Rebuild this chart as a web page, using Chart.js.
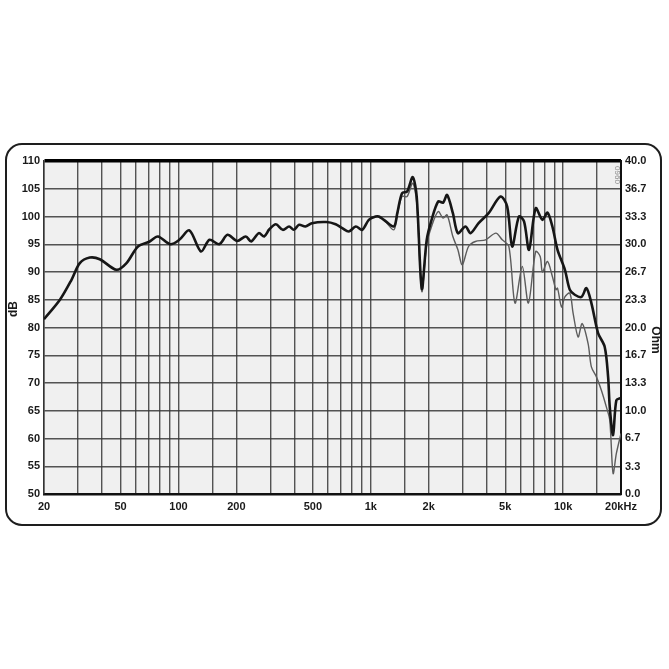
<!DOCTYPE html>
<html>
<head>
<meta charset="utf-8">
<script src="https://cdn.jsdelivr.net/npm/chart.js@4.4.0/dist/chart.umd.min.js"></script>
<style>
  body { margin: 0; background: #fff; }
  canvas { display: block; }
</style>
</head>
<body>
<canvas id="myChart" width="669" height="669"></canvas>
<script>
// frequency response
var blackFreq = [20, 24.2, 27.8, 30.7, 34.6, 39, 47.6, 53.7, 61.6, 70.9,
                 78.2, 90.6, 101, 114, 131, 145, 163, 180, 202, 224,
                 239, 262, 279, 297, 321, 349, 376, 398, 424, 457,
                 494, 587, 657, 711, 769, 836, 903, 977, 1060, 1101,
                 1170, 1318, 1374, 1454, 1545, 1652, 1733, 1842, 1954, 2071,
                 2241, 2378, 2493, 2672, 2838, 3108, 3300, 3636, 4100, 4726,
                 5120, 5436, 5893, 6263, 6650, 7203, 7807, 8293, 8795, 9353,
                 10216, 10840, 11500, 12460, 13220, 14030, 15200, 16460, 17140, 17480,
                 18190, 18920, 20000];
var blackDb   = [81.5, 85.0, 88.6, 91.6, 92.6, 92.3, 90.4, 91.6, 94.6, 95.5,
                 96.4, 95.0, 95.8, 97.5, 93.7, 95.8, 95.0, 96.7, 95.6, 96.4,
                 95.5, 97.0, 96.4, 97.7, 98.6, 97.6, 98.2, 97.6, 98.5, 98.2,
                 98.8, 99.0, 98.6, 97.9, 97.3, 98.2, 97.6, 99.4, 100.0, 100.0,
                 99.4, 98.2, 100.6, 104.2, 104.5, 107.1, 103.6, 87.0, 95.8, 99.4,
                 102.7, 102.5, 103.9, 100.6, 97.0, 98.2, 97.0, 98.8, 100.6, 103.6,
                 101.8, 94.6, 100.0, 99.1, 94.0, 101.5, 99.4, 100.7, 98.2, 94.0,
                 90.4, 86.8, 85.9, 85.5, 87.1, 84.4, 79.0, 76.5, 71.1, 65.7,
                 60.6, 66.9, 67.3];

var grayFreq = [1060, 1101, 1170, 1318, 1374, 1454, 1545, 1652, 1733, 1842,
                1954, 2071, 2241, 2378, 2493, 2672, 2838, 2990, 3223, 3497,
                3953, 4472, 4825, 5223, 5623, 6135, 6600, 7203, 7600, 7807,
                8293, 8795, 9184, 9353, 9820, 10216, 10840, 11270, 11970, 12560,
                13490, 14030, 14900, 15810, 16780, 17480, 18190, 18920, 20000];
var grayDb   = [100.0, 99.9, 99.4, 97.6, 100.4, 103.6, 103.6, 106.0, 102.5, 86.5,
                95.0, 98.2, 100.9, 99.7, 100.3, 96.4, 94.0, 91.3, 94.6, 95.5,
                95.8, 97.0, 95.8, 94.6, 84.4, 91.0, 84.4, 93.7, 92.8, 90.0,
                91.9, 89.2, 86.8, 87.1, 83.7, 85.5, 86.2, 82.6, 78.3, 80.7,
                77.1, 72.9, 71.1, 68.7, 65.7, 63.3, 53.7, 57.3, 60.9];

// axes
var gridFreqs = [20, 30, 40, 50, 60, 70, 80, 90, 100, 150, 200, 300, 400, 500, 600, 700, 800, 900,
                 1000, 1500, 2000, 3000, 4000, 5000, 6000, 7000, 8000, 9000, 10000, 15000, 20000];
var labelFreqs = [20, 50, 100, 200, 500, 1000, 2000, 5000, 10000, 20000];
var labelTexts = ['20', '50', '100', '200', '500', '1k', '2k', '5k', '10k', '20kHz'];
var ohmTicks = [0.0, 3.3, 6.7, 10.0, 13.3, 16.7, 20.0, 23.3, 26.7, 30.0, 33.3, 36.7, 40.0];

function toPoints(xs, ys) {
    return xs.map(function (x, i) { return { x: x, y: ys[i] }; });
}

Chart.defaults.font.family = "'Liberation Sans', Arial, sans-serif";
Chart.defaults.color = '#1a1a1a';

var paperPlugin = {
    id: 'paper',
    beforeDraw: function (chart) {
        var ctx = chart.ctx, a = chart.chartArea;
        ctx.save();
        ctx.fillStyle = '#f0f0f0';
        ctx.fillRect(a.left, a.top, a.right - a.left, a.bottom - a.top);
        ctx.restore();
    },
    afterDraw: function (chart) {
        var ctx = chart.ctx;
        ctx.save();
        // rounded frame
        ctx.strokeStyle = '#1e1e1e';
        ctx.lineWidth = 2;
        ctx.beginPath();
        ctx.roundRect(6, 144, 655, 381, 16);
        ctx.stroke();
        // axis names
        ctx.fillStyle = '#1a1a1a';
        ctx.font = "bold 12px 'Liberation Sans', Arial, sans-serif";
        ctx.textAlign = 'center';
        ctx.textBaseline = 'middle';
        ctx.translate(14, 309);
        ctx.rotate(-Math.PI / 2);
        ctx.fillText('dB', 0, 0);
        ctx.restore();

        ctx.save();
        ctx.fillStyle = '#1a1a1a';
        ctx.font = "bold 12px 'Liberation Sans', Arial, sans-serif";
        ctx.textAlign = 'center';
        ctx.textBaseline = 'middle';
        ctx.translate(655, 340);
        ctx.rotate(Math.PI / 2);
        ctx.fillText('Ohm', 0, 0);
        ctx.restore();

        ctx.save();
        ctx.fillStyle = '#8a8a8a';
        ctx.font = "8px 'Liberation Sans', Arial, sans-serif";
        ctx.textAlign = 'center';
        ctx.textBaseline = 'middle';
        ctx.translate(617, 175);
        ctx.rotate(Math.PI / 2);
        ctx.fillText('0960', 0, 0);
        ctx.restore();
    }
};

new Chart('myChart', {
    type: 'line',
    data: {
        datasets: [{
            label: 'black',
            data: toPoints(blackFreq, blackDb),
            borderColor: '#161616',
            borderWidth: 2.6,
            pointRadius: 0,
            tension: 0.3,
            fill: false
        }, {
            label: 'gray',
            data: toPoints(grayFreq, grayDb),
            borderColor: '#5c5c5c',
            borderWidth: 1.4,
            pointRadius: 0,
            tension: 0.3,
            fill: false
        }]
    },
    options: {
        responsive: false,
        animation: false,
        events: [],
        layout: { padding: { top: 161, bottom: 147, left: 0, right: 0 } },
        plugins: { legend: { display: false }, tooltip: { enabled: false } },
        scales: {
            x: {
                type: 'logarithmic',
                min: 20,
                max: 20000,
                afterBuildTicks: function (scale) {
                    scale.ticks = gridFreqs.map(function (v) { return { value: v }; });
                },
                afterFit: function (scale) { scale.height = 28; },
                ticks: {
                    autoSkip: false,
                    maxRotation: 0,
                    padding: 6,
                    font: { size: 11, weight: 'bold' },
                    callback: function (value) {
                        var i = labelFreqs.indexOf(value);
                        return i >= 0 ? labelTexts[i] : '';
                    }
                },
                grid: {
                    drawTicks: false,
                    color: function (c) { return c.tick && c.tick.value === 20000 ? '#111' : 'rgba(55,55,55,0.85)'; },
                    lineWidth: function (c) { return c.tick && c.tick.value === 20000 ? 2 : 1.4; }
                },
                border: { color: '#111', width: 2.5 }
            },
            y: {
                type: 'linear',
                position: 'left',
                min: 50,
                max: 110,
                afterFit: function (scale) { scale.width = 44; },
                ticks: {
                    stepSize: 5,
                    padding: 4,
                    font: { size: 11, weight: 'bold' }
                },
                grid: {
                    drawTicks: false,
                    color: function (c) { return c.tick && c.tick.value === 110 ? '#000' : 'rgba(55,55,55,0.85)'; },
                    lineWidth: function (c) { return c.tick && c.tick.value === 110 ? 3.5 : 1.4; }
                },
                border: { color: '#333', width: 1.5 }
            },
            y2: {
                type: 'linear',
                position: 'right',
                min: 0,
                max: 40,
                afterBuildTicks: function (scale) {
                    scale.ticks = ohmTicks.map(function (v) { return { value: v }; });
                },
                afterFit: function (scale) { scale.width = 48; },
                ticks: {
                    autoSkip: false,
                    padding: 4,
                    font: { size: 11, weight: 'bold' },
                    callback: function (value) { return value.toFixed(1); }
                },
                grid: { display: false, drawTicks: false },
                border: { color: '#111', width: 2 }
            }
        }
    },
    plugins: [paperPlugin]
});
</script>
</body>
</html>
